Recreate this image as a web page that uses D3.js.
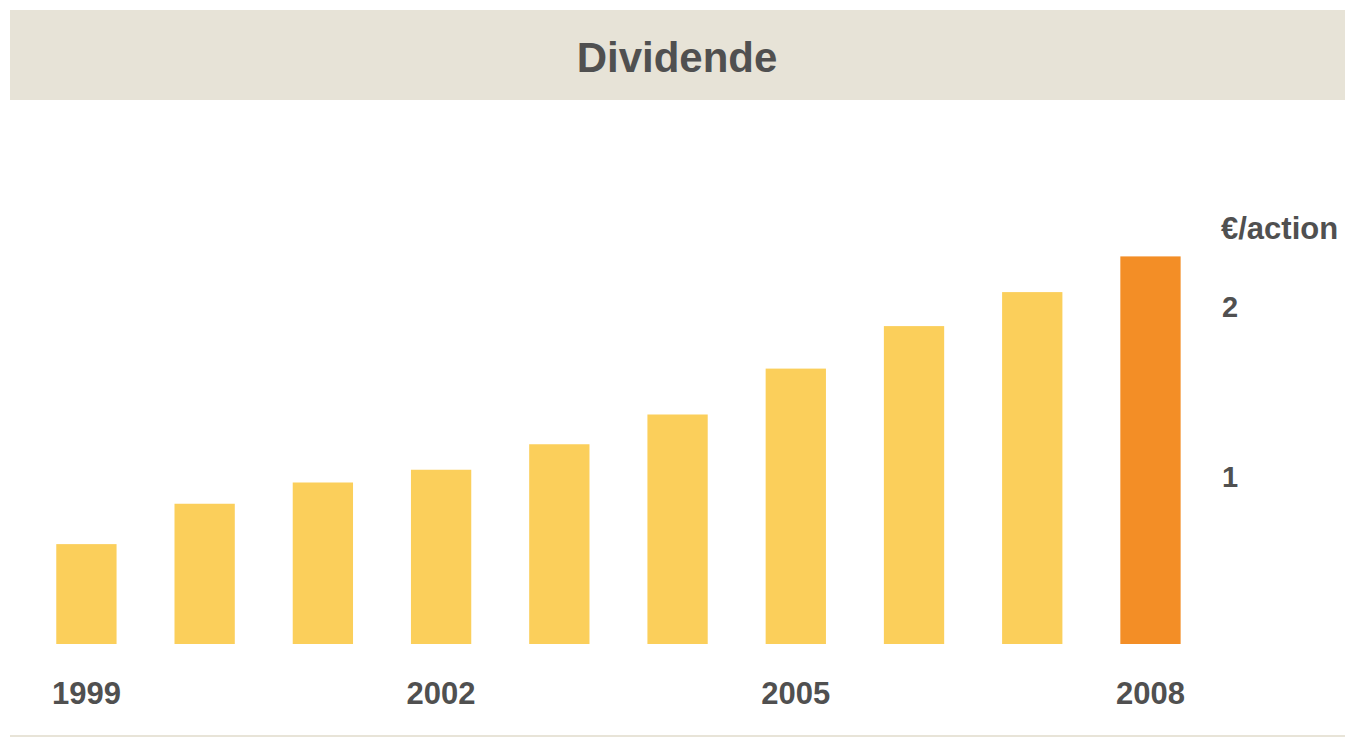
<!DOCTYPE html>
<meta charset="utf-8">
<style>
body { margin: 0; background: #fff; }
text { font-family: "Liberation Sans", Arial, sans-serif; font-weight: bold; fill: #505050; }
</style>
<svg width="1345" height="737"></svg>
<script src="https://d3js.org/d3.v7.min.js"></script>
<script>
// dividend per share, euro
var years = ["1999", "2000", "2001", "2002", "2003", "2004", "2005", "2006", "2007", "2008"];
var dividends = [0.5875, 0.825, 0.95, 1.025, 1.175, 1.35, 1.62, 1.87, 2.07, 2.28];
var yearLabels = ["1999", "2002", "2005", "2008"];
var yTicks = [1, 2];

var svg = d3.select("svg");

// title band
svg.append("rect")
  .attr("x", 10).attr("y", 10)
  .attr("width", 1335).attr("height", 90)
  .attr("fill", "#e7e3d7");
svg.append("text")
  .attr("x", 677).attr("y", 57)
  .attr("text-anchor", "middle")
  .attr("dominant-baseline", "central")
  .attr("font-size", 42)
  .text("Dividende");

var x = d3.scaleBand()
  .domain(years)
  .range([27.3, 1209.6])
  .paddingInner(0.49)
  .paddingOuter(0.245);

var y = d3.scaleLinear()
  .domain([0, 1])
  .range([644, 474]);

var data = years.map(function (yr, i) { return {year: yr, value: dividends[i]} });

svg.append("g")
  .selectAll("rect")
  .data(data)
  .enter().append("rect")
    .attr("x", function (d) { return x(d.year) })
    .attr("width", x.bandwidth())
    .attr("y", function (d) { return y(d.value) })
    .attr("height", function (d) { return y(0) - y(d.value) })
    .attr("fill", function (d) { return d.year === "2008" ? "#f38e26" : "#fbcf5b" });

// year labels
svg.append("g")
  .selectAll("text")
  .data(yearLabels)
  .enter().append("text")
    .attr("x", function (d) { return x(d) + x.bandwidth() / 2 })
    .attr("y", 693)
    .attr("text-anchor", "middle")
    .attr("dominant-baseline", "central")
    .attr("font-size", 31)
    .text(function (d) { return d });

// value axis on the right
svg.append("g")
  .selectAll("text")
  .data(yTicks)
  .enter().append("text")
    .attr("x", 1222)
    .attr("y", function (d) { return y(d) + 3 })
    .attr("dominant-baseline", "central")
    .attr("font-size", 29)
    .text(function (d) { return d });

svg.append("text")
  .attr("x", 1221).attr("y", 228)
  .attr("dominant-baseline", "central")
  .attr("font-size", 31)
  .text("€/action");

// bottom rule
svg.append("line")
  .attr("x1", 10).attr("x2", 1345)
  .attr("y1", 736).attr("y2", 736)
  .attr("stroke", "#e8e4d8")
  .attr("stroke-width", 2);
</script>
